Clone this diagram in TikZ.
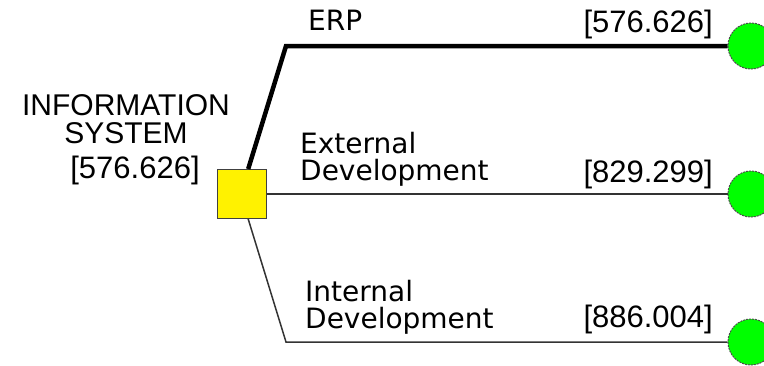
\documentclass[tikz,border=0pt]{standalone}
\usepackage{fontspec}
\setmainfont{Liberation Sans}
\newfontfamily\branchfont{DejaVu Sans}
\begin{document}
\begin{tikzpicture}[x=1pt,y=-1pt,
    decision/.style={draw=black!75,fill=yellow,minimum size=49pt,inner sep=0pt,line width=1pt},
    chance/.style={circle,draw=black!70,fill=green,minimum size=46pt,inner sep=0pt,line width=1pt,dash pattern=on 2pt off 1pt},
    branch/.style={draw=black!80,line width=1.5pt},
    best/.style={draw=black,line width=4.5pt},
    branchname/.style={font=\branchfont\fontsize{28}{26.5}\selectfont,align=left,anchor=base west,inner sep=0pt},
    payoff/.style={font=\fontsize{31}{31}\selectfont,anchor=base east,inner sep=0pt}]
    \useasboundingbox (0,0) rectangle (764,365);
    % Decision node and its texts
    \node[decision] (sys) at (241.5,194) {};
    \node[align=center,font=\fontsize{30}{28}\selectfont,anchor=base,inner sep=0pt] (sysname) at (126,143) {INFORMATION\\SYSTEM};
    \node[payoff,anchor=base] (sysval) at (135,178) {[576.626]};
    % End nodes of the three options
    \node[chance] (erp) at (751,46) {};
    \node[chance] (ext) at (751,194) {};
    \node[chance] (int) at (751,342) {};
    \coordinate (erpbend) at (286,46);
    \coordinate (intbend) at (286,342);
    % Branches
    \draw[best] (sys.75) -- (erpbend) -- (erp);
    \draw[branch] (sys) -- (ext);
    \draw[branch] (sys.-75) -- (intbend) -- (int);
    % Option names
    \node[branchname] (erpname) at (308,30) {ERP};
    \node[branchname] (extname) at (300,180) {External\\Development};
    \node[branchname] (intname) at (305,328) {Internal\\Development};
    % Values
    \node[payoff] (erpval) at (713,32) {[576.626]};
    \node[payoff] (extval) at (713,182) {[829.299]};
    \node[payoff] (intval) at (713,327) {[886.004]};
\end{tikzpicture}
\end{document}
